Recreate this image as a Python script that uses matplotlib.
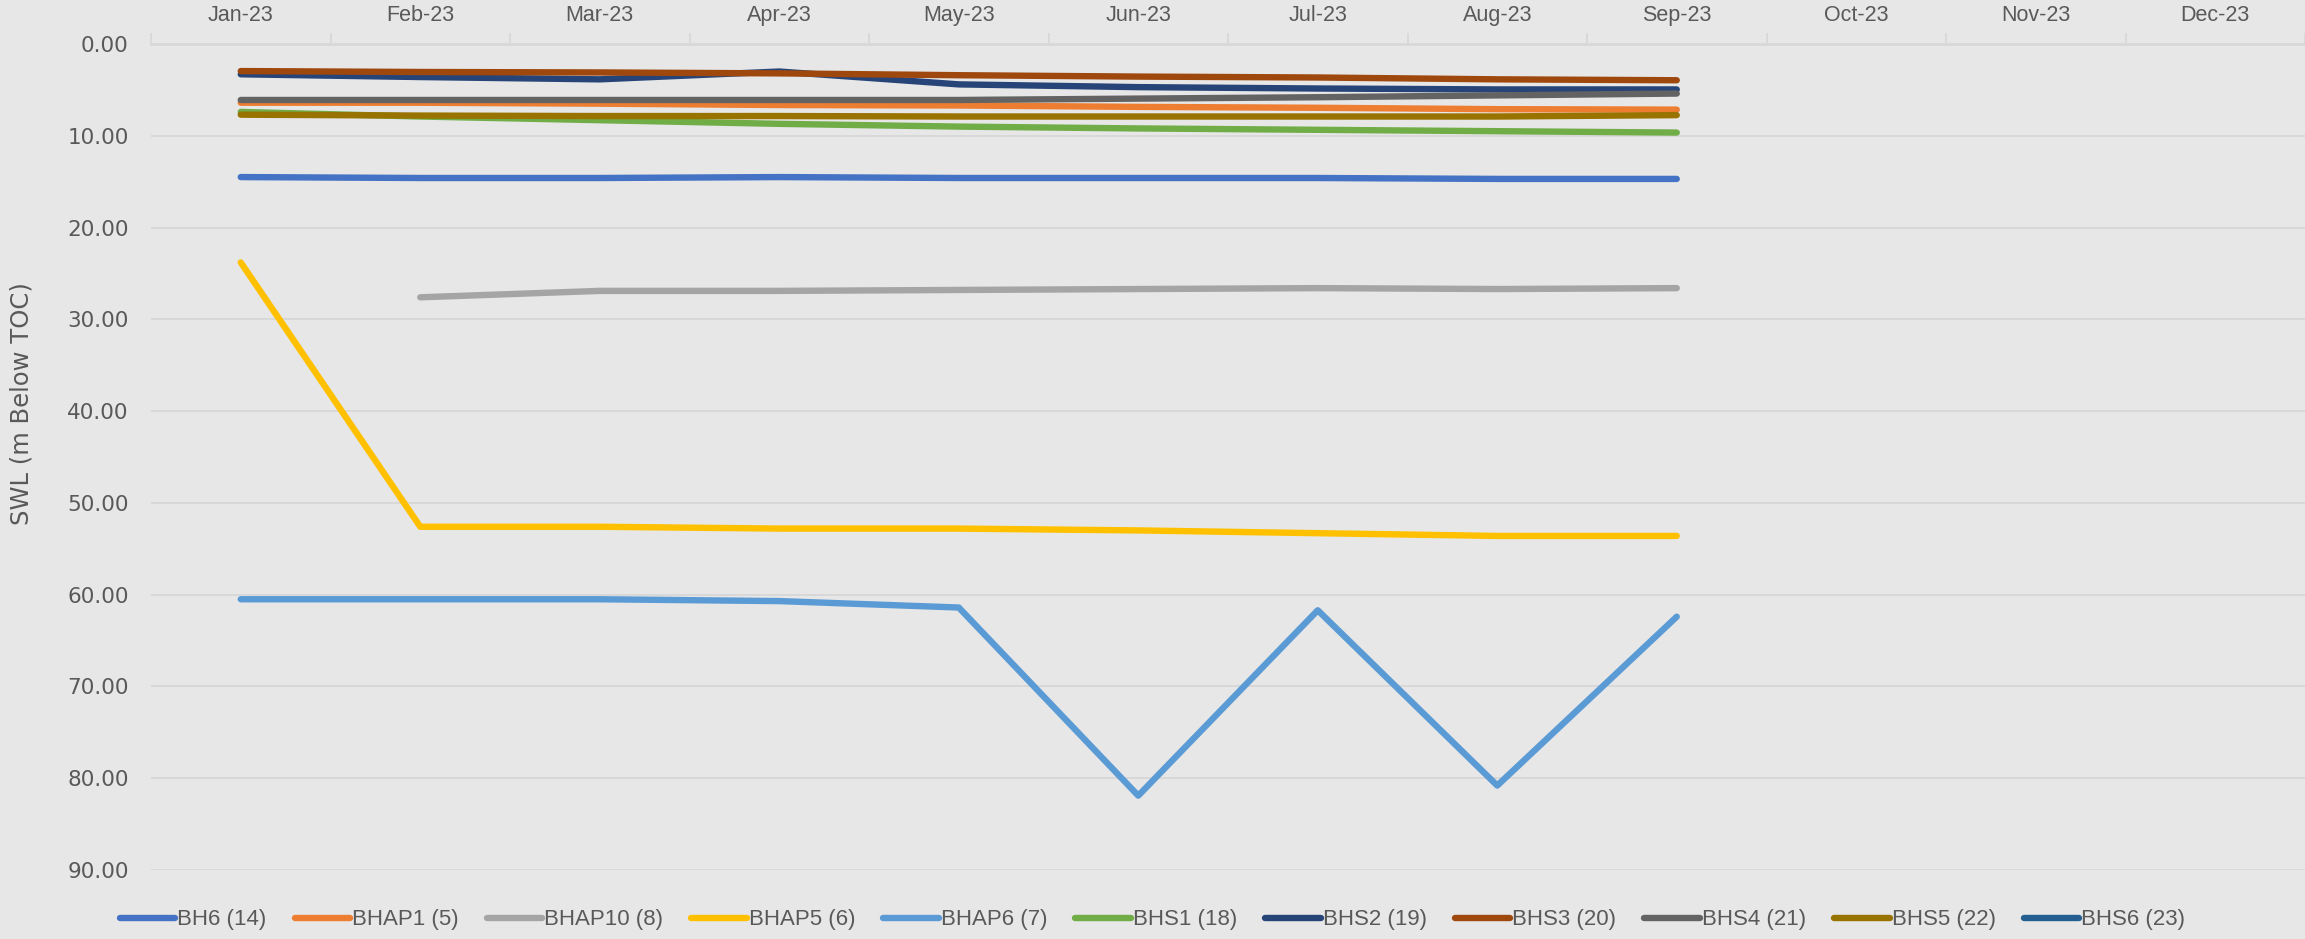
import numpy as np
import matplotlib
matplotlib.use("Agg")
import matplotlib.pyplot as plt

BG = '#E7E7E7'
GRID = '#D8D8D8'
TXT = '#595959'
NARROW = ['Liberation Sans Narrow', 'Liberation Sans', 'DejaVu Sans']

# ── Data: static water level, m below top of casing ──────────────────────────
months = ['Jan-23', 'Feb-23', 'Mar-23', 'Apr-23', 'May-23', 'Jun-23',
          'Jul-23', 'Aug-23', 'Sep-23', 'Oct-23', 'Nov-23', 'Dec-23']

nan = np.nan
bh6    = [14.5, 14.6, 14.6, 14.5, 14.6, 14.6, 14.6, 14.7, 14.7]
bhap1  = [6.4, 6.4, 6.5, 6.65, 6.7, 6.85, 6.95, 7.1, 7.15]
bhap10 = [nan, 27.6, 26.9, 26.9, 26.8, 26.7, 26.6, 26.7, 26.6]
bhap5  = [23.8, 52.6, 52.6, 52.8, 52.8, 53.0, 53.3, 53.6, 53.6]
bhap6  = [60.5, 60.5, 60.5, 60.7, 61.4, 81.9, 61.7, 80.8, 62.4]
bhs1   = [7.4, 7.9, 8.3, 8.7, 9.0, 9.2, 9.35, 9.5, 9.65]
bhs2   = [3.3, 3.6, 3.85, 3.0, 4.4, 4.7, 4.85, 4.95, 4.95]
bhs3   = [2.95, 3.05, 3.1, 3.2, 3.4, 3.55, 3.65, 3.85, 3.95]
bhs4   = [6.1, 6.1, 6.1, 6.1, 6.1, 5.95, 5.8, 5.6, 5.4]
bhs5   = [7.7, 7.8, 7.85, 7.85, 7.9, 7.9, 7.9, 7.9, 7.75]
bhs6   = [nan] * 9

names  = ['BH6 (14)', 'BHAP1 (5)', 'BHAP10 (8)', 'BHAP5 (6)', 'BHAP6 (7)',
          'BHS1 (18)', 'BHS2 (19)', 'BHS3 (20)', 'BHS4 (21)', 'BHS5 (22)',
          'BHS6 (23)']
series = [bh6, bhap1, bhap10, bhap5, bhap6, bhs1, bhs2, bhs3, bhs4, bhs5, bhs6]
colors = ['#4472C4', '#ED7D31', '#A5A5A5', '#FFC000', '#5B9BD5', '#70AD47',
          '#264478', '#9E480E', '#636363', '#997300', '#255E91']

fig = plt.figure(figsize=(23.05, 9.39), dpi=100, facecolor=BG)
W, H = 2305, 939
ax = fig.add_axes([151 / W, (H - 870) / H, (W - 151) / W, (870 - 44) / H])
ax.set_facecolor(BG)

x = np.arange(len(months))
for name, vals, col in zip(names, series, colors):
    ax.plot(x[:len(vals)], vals, color=col, lw=4.6, label=name,
            solid_capstyle='round', solid_joinstyle='round')

ax.set_xlim(-0.5, len(months) - 0.5)
ax.set_ylim(90, 0)
ax.set_yticks(np.arange(0, 91, 10))
ax.set_yticklabels([f'{v:.2f}' for v in range(0, 91, 10)])

ax.xaxis.tick_top()
ax.set_xticks(x)
ax.set_xticklabels(months, family=NARROW, fontsize=15.5, color=TXT)
ax.set_xticks(np.arange(-0.5, len(months)), minor=True)
ax.tick_params(axis='x', which='major', length=0, pad=13)
ax.tick_params(axis='x', which='minor', length=8, width=1.3, color=GRID,
               direction='out')
ax.tick_params(axis='y', length=0, pad=16, labelsize=15.5, labelcolor=TXT)

ax.yaxis.grid(True, color=GRID, lw=1.4)
ax.set_axisbelow(True)
for s in ['left', 'right', 'bottom']:
    ax.spines[s].set_visible(False)
ax.spines['top'].set_color(GRID)
ax.spines['top'].set_linewidth(2)

fig.text(22 / W, 1 - 404 / H, 'SWL (m Below TOC)', rotation=90, fontsize=17.5,
         color=TXT, ha='center', va='center')

leg = fig.legend(loc='center', bbox_to_anchor=(0.5, 1 - 920 / H), ncol=11,
                 frameon=False, handlelength=2.5, handletextpad=0.1,
                 columnspacing=1.25, prop={'family': NARROW, 'size': 16})
for t in leg.get_texts():
    t.set_color(TXT)
for h in leg.get_lines():
    h.set_linewidth(4.6)

fig.savefig('out.png', dpi=100, facecolor=BG)
